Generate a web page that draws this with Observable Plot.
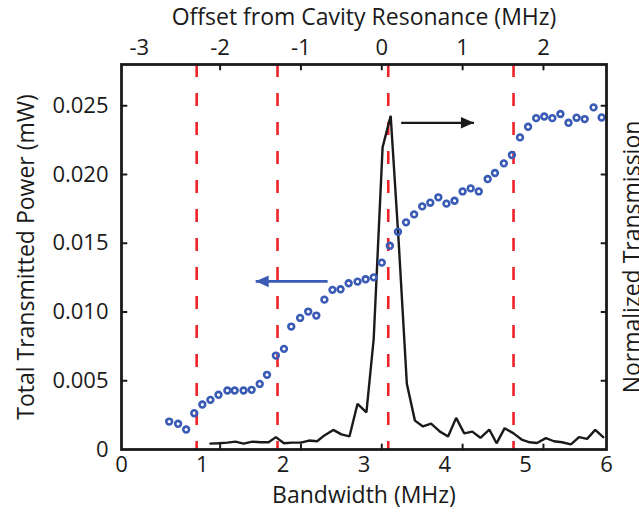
<!DOCTYPE html>
<html><head><meta charset="utf-8">
<script src="https://cdn.jsdelivr.net/npm/d3@7"></script>
<script src="https://cdn.jsdelivr.net/npm/@observablehq/plot@0.6"></script>
<style>html,body{margin:0;padding:0;background:#fff}#chart svg{display:block}</style>
</head><body><div id="chart"></div>
<script>
// ---- data ----
const bandwidthTicks = [0, 1, 2, 3, 4, 5, 6];
const offsetTicks = [-3, -2, -1, 0, 1, 2];
const offsetZero = 3.22; // bandwidth (MHz) at zero offset from cavity resonance
const powerTicks = [0, 0.005, 0.010, 0.015, 0.020, 0.025];
const transTicks = [0.2, 0.4, 0.6, 0.8, 1.0];
const transScale = 0.025; // normalized transmission 1.0 sits at 0.025 mW on the left axis

const powerX = [0.59,0.70,0.80,0.90,1.00,1.10,1.20,1.31,1.40,1.51,1.61,1.71,1.80,1.91,2.01,2.10,2.21,2.31,2.41,2.51,2.61,2.71,2.81,2.92,3.02,3.12,3.22,3.32,3.42,3.52,3.62,3.72,3.82,3.92,4.02,4.12,4.22,4.32,4.42,4.53,4.62,4.73,4.83,4.93,5.03,5.13,5.23,5.33,5.43,5.53,5.63,5.73,5.84,5.94];
const powerY = [0.00203,0.00187,0.00145,0.00264,0.00327,0.00361,0.00398,0.00429,0.00429,0.00429,0.00434,0.00477,0.00543,0.00683,0.00732,0.00894,0.00957,0.01003,0.00974,0.01090,0.01161,0.01165,0.01209,0.01221,0.01238,0.01252,0.01359,0.01482,0.01584,0.01652,0.01710,0.01768,0.01795,0.01834,0.01788,0.01809,0.01877,0.01899,0.01877,0.01967,0.02011,0.02081,0.02142,0.02270,0.02347,0.02410,0.02422,0.02410,0.02440,0.02376,0.02413,0.02403,0.02488,0.02415];

const transX = [1.10,1.20,1.31,1.41,1.51,1.62,1.72,1.82,1.91,2.01,2.11,2.22,2.32,2.42,2.51,2.62,2.72,2.82,2.92,3.03,3.12,3.23,3.33,3.43,3.53,3.63,3.73,3.83,3.94,4.04,4.14,4.24,4.34,4.44,4.55,4.64,4.74,4.85,4.95,5.05,5.14,5.25,5.35,5.45,5.56,5.66,5.76,5.86,5.96];
const transY = [0.017,0.018,0.020,0.023,0.017,0.023,0.021,0.021,0.036,0.018,0.020,0.020,0.026,0.024,0.041,0.057,0.044,0.038,0.133,0.108,0.322,0.879,0.971,0.600,0.191,0.084,0.067,0.075,0.052,0.038,0.092,0.047,0.052,0.034,0.058,0.018,0.062,0.047,0.029,0.021,0.019,0.033,0.024,0.021,0.015,0.036,0.031,0.057,0.036];

const cavityLines = [0.93, 1.93, 3.30, 4.85];

const blackArrow = [{x1: 3.46, x2: 4.36, y: 0.02376}];
const blueArrow = [{x1: 2.55, x2: 1.66, y: 0.01223}];

const xTitle = "Bandwidth (MHz)";
const topTitle = "Offset from Cavity Resonance (MHz)";
const yTitle = "Total Transmitted Power (mW)";
const rightTitle = "Normalized Transmission";

// ---- build ----
const powerData = powerX.map((x, i) => ({x, y: powerY[i]}));
const transData = transX.map((x, i) => ({x, t: transY[i]}));
const offsetPositions = offsetTicks.map(o => offsetZero + o);
const innerTicks = offsetPositions.filter(v => v > 0.5);

const tickShape = {draw(ctx, l) { ctx.moveTo(0, 0); ctx.lineTo(0, -l); }};
const headShape = {draw(ctx) { ctx.moveTo(0, 0); ctx.lineTo(5.8, 13); ctx.lineTo(-5.8, 13); ctx.closePath(); }};

const ink = "#1a1a1a";
const blue = "#3a5bb5";
const red = "#ee2229";
const tickFont = 22;
const titleFont = 23;

const plot = Plot.plot({
  width: 639, height: 512,
  marginLeft: 121, marginRight: 33, marginTop: 64, marginBottom: 63,
  style: {fontFamily: "'Open Sans', sans-serif", fontSize: "22px", color: ink, background: "white", overflow: "hidden"},
  x: {domain: [0, 6]},
  y: {domain: [0, 0.028]},
  marks: [
    Plot.ruleX(cavityLines, {x: d => d, stroke: red, strokeWidth: 2.6, strokeDasharray: "13,16"}),
    Plot.line(transData, {x: "x", y: d => d.t * transScale, stroke: ink, strokeWidth: 2.4, strokeLinejoin: "miter"}),
    Plot.dot(powerData, {x: "x", y: "y", r: 2.9, stroke: blue, strokeWidth: 2.6, fill: "none"}),
    Plot.link(blackArrow, {x1: "x1", x2: "x2", y1: "y", y2: "y", stroke: ink, strokeWidth: 2.3}),
    Plot.dot(blackArrow, {x: "x2", y: "y", symbol: headShape, rotate: 90, fill: ink, stroke: "none"}),
    Plot.link(blueArrow, {x1: "x1", x2: "x2", y1: "y", y2: "y", stroke: blue, strokeWidth: 2.6}),
    Plot.dot(blueArrow, {x: "x2", y: "y", symbol: headShape, rotate: -90, fill: blue, stroke: "none"}),
    Plot.frame({stroke: ink, strokeWidth: 2.8}),
    // inward tick marks
    Plot.vector(powerTicks.slice(1), {y: d => d, frameAnchor: "left", length: 5, rotate: 90, anchor: "start", shape: tickShape, stroke: ink, strokeWidth: 2}),
    Plot.vector(transTicks, {y: d => d * transScale, frameAnchor: "right", length: 5, rotate: -90, anchor: "start", shape: tickShape, stroke: ink, strokeWidth: 2}),
    Plot.vector(innerTicks, {x: d => d, frameAnchor: "top", length: 5, rotate: 180, anchor: "start", shape: tickShape, stroke: ink, strokeWidth: 2}),
    Plot.vector(innerTicks, {x: d => d, frameAnchor: "bottom", length: 5, rotate: 0, anchor: "start", shape: tickShape, stroke: ink, strokeWidth: 2}),
    // tick labels
    Plot.axisY(powerTicks, {anchor: "left", tickSize: 0, tickPadding: 13, label: null, fontSize: tickFont, tickFormat: d => d === 0 ? "0" : d3.format(".3f")(d)}),
    Plot.axisX(bandwidthTicks, {anchor: "bottom", tickSize: 0, tickPadding: 7, label: null, fontSize: tickFont, tickFormat: d => String(d)}),
    Plot.axisX(offsetPositions, {anchor: "top", tickSize: 0, tickPadding: 10, label: null, fontSize: tickFont, tickFormat: d => String(Math.round(d - offsetZero))}),
    // titles
    Plot.text([xTitle], {text: d => d, frameAnchor: "bottom", lineAnchor: "middle", textAnchor: "middle", dy: 46, fontSize: titleFont, fill: ink}),
    Plot.text([topTitle], {text: d => d, frameAnchor: "top", lineAnchor: "middle", textAnchor: "middle", dy: -47, fontSize: titleFont, fill: ink}),
    Plot.text([yTitle], {text: d => d, frameAnchor: "left", lineAnchor: "middle", textAnchor: "middle", dx: -95, rotate: -90, fontSize: titleFont, fill: ink}),
    Plot.text([rightTitle], {text: d => d, frameAnchor: "right", lineAnchor: "middle", textAnchor: "middle", dx: 26, rotate: -90, fontSize: titleFont, fill: ink})
  ]
});
document.getElementById("chart").append(plot);
</script>
</body></html>
